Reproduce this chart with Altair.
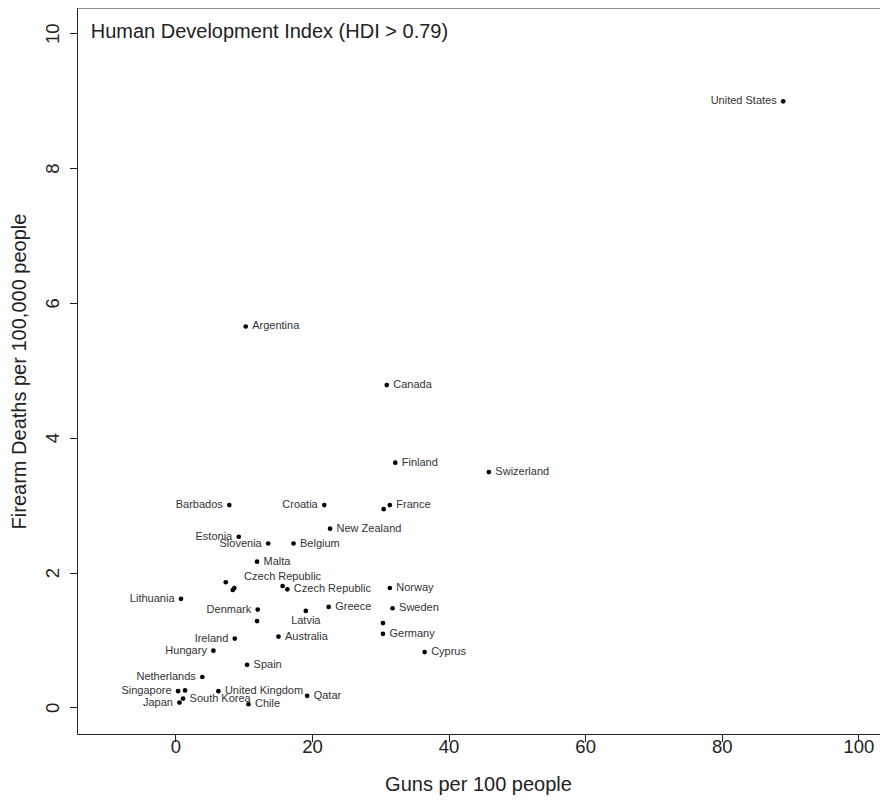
import altair as alt
import pandas as pd

# ---- data ----
countries = [
    "United States", "Argentina", "Canada", "Finland", "Swizerland",
    "Barbados", "Croatia", "France", "", "New Zealand",
    "Estonia", "Slovenia", "Belgium", "Malta", "",
    "", "", "Czech Republic", "Czech Republic", "Lithuania",
    "Denmark", "Latvia", "Greece", "", "Norway",
    "Sweden", "", "Germany", "Ireland", "Australia",
    "Hungary", "Cyprus", "Spain", "Netherlands", "Singapore",
    "", "Japan", "South Korea", "United Kingdom", "Chile",
    "Qatar",
]
guns = [
    89.0, 10.3, 30.95, 32.2, 45.9,
    7.9, 21.8, 31.4, 30.5, 22.65,
    9.28, 13.6, 17.3, 11.96, 7.38,
    8.40, 8.64, 15.7, 16.4, 0.83,
    12.06, 19.1, 22.45, 11.96, 31.4,
    31.8, 30.4, 30.4, 8.7, 15.1,
    5.57, 36.5, 10.5, 3.95, 0.4,
    1.42, 0.6, 1.13, 6.3, 10.7,
    19.3,
]
deaths = [
    8.99, 5.65, 4.78, 3.63, 3.49,
    3.00, 3.00, 3.00, 2.94, 2.65,
    2.53, 2.43, 2.43, 2.16, 1.855,
    1.74, 1.77, 1.80, 1.75, 1.61,
    1.45, 1.43, 1.49, 1.28, 1.77,
    1.47, 1.25, 1.09, 1.02, 1.05,
    0.84, 0.82, 0.63, 0.45, 0.24,
    0.25, 0.07, 0.13, 0.24, 0.045,
    0.17,
]
label_pos = [
    "left", "right", "right", "right", "right",
    "left", "left", "right", "none", "right",
    "left", "left", "right", "right", "none",
    "none", "none", "above", "right", "left",
    "left", "below", "right", "none", "right",
    "right", "none", "right", "left", "right",
    "left", "right", "right", "left", "left",
    "none", "left", "right", "right", "right",
    "right",
]
x_ticks = [0, 20, 40, 60, 80, 100]
y_ticks = [0, 2, 4, 6, 8, 10]
annotation = "Human Development Index (HDI > 0.79)"
x_title = "Guns per 100 people"
y_title = "Firearm Deaths per 100,000 people"

df = pd.DataFrame({"country": countries, "guns": guns, "deaths": deaths, "pos": label_pos})

W, H = 803, 726
FONT = "Liberation Sans"
INK = "#222222"

x_enc = alt.X(
    "guns:Q",
    scale=alt.Scale(domain=[-14.4, 103.17], nice=False, zero=False),
    axis=alt.Axis(
        values=x_ticks, grid=False, title=x_title,
        domainColor=INK, tickColor=INK, tickSize=7.5, tickWidth=1, domainWidth=1,
        labelFont=FONT, labelFontSize=18.5, labelColor=INK, labelPadding=11,
        labelBaseline="alphabetic", labelFlush=False, labelOverlap=False,
        titleFont=FONT, titleFontSize=20, titleColor=INK, titleFontWeight="normal",
        titleX=401, titleY=50, titleAlign="center", titleBaseline="middle",
    ),
)
y_enc = alt.Y(
    "deaths:Q",
    scale=alt.Scale(domain=[-0.396, 10.375], nice=False, zero=False),
    axis=alt.Axis(
        values=y_ticks, grid=False, title=y_title,
        domainColor=INK, tickColor=INK, tickSize=7.5, tickWidth=1, domainWidth=1,
        labelFont=FONT, labelFontSize=18.5, labelColor=INK, labelPadding=11,
        labelAngle=270, labelAlign="center", labelBaseline="alphabetic",
        labelFlush=False, labelOverlap=False,
        titleFont=FONT, titleFontSize=20, titleColor=INK, titleFontWeight="normal",
        titleAngle=270, titleX=-58, titleY=363, titleAlign="center", titleBaseline="middle",
    ),
)

base = alt.Chart(df)

points = base.mark_circle(size=22, color="black", opacity=1).encode(x=x_enc, y=y_enc)


def labels(pos, align, dx, dy):
    return base.transform_filter(alt.datum.pos == pos).mark_text(
        align=align, baseline="middle", dx=dx, dy=dy,
        font=FONT, fontSize=11, color="#333333",
    ).encode(x=x_enc, y=y_enc, text="country:N")


lab_right = labels("right", "left", 6.5, 0)
lab_left = labels("left", "right", -6.5, 0)
lab_above = labels("above", "center", 0, -9)
lab_below = labels("below", "center", 0, 10)

one = alt.Chart(pd.DataFrame({"k": [0]}))
annot = one.mark_text(
    align="left", baseline="alphabetic", font=FONT, fontSize=20, color=INK
).encode(x=alt.value(13.7), y=alt.value(29.5), text=alt.value(annotation))

top_border = one.mark_rule(color=INK, strokeWidth=1).encode(
    x=alt.value(0), x2=alt.value(W), y=alt.value(0)
)

chart = alt.layer(
    points, lab_right, lab_left, lab_above, lab_below, annot, top_border
).properties(
    width=W, height=H,
    autosize=alt.AutoSizeParams(type="none"),
    padding={"left": 69, "top": 0, "right": 0, "bottom": 63},
    background="white",
).configure_view(stroke=None)

chart.save("out.html", embed_options={"renderer": "svg", "actions": False})
